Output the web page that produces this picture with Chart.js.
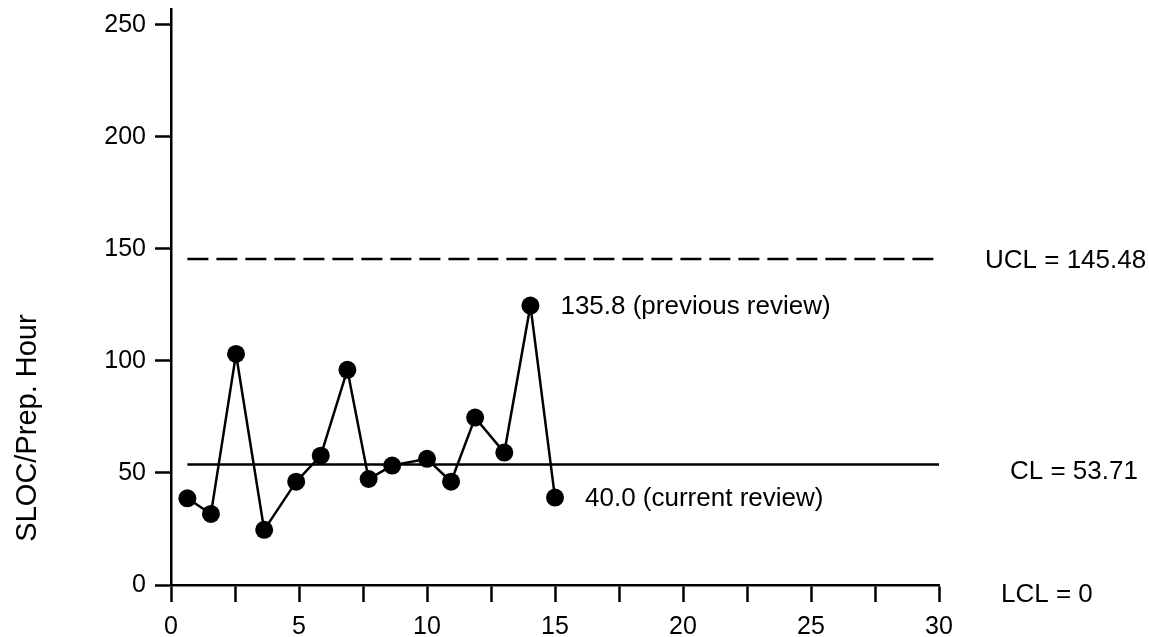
<!DOCTYPE html>
<html>
<head>
<meta charset="utf-8">
<script src="https://cdn.jsdelivr.net/npm/chart.js@4/dist/chart.umd.min.js"></script>
<style>
  html, body { margin: 0; padding: 0; background: #fff; }
  #wrap { width: 1149px; height: 637px; }
</style>
</head>
<body>
<div id="wrap"><canvas id="spcChart"></canvas></div>
<script>
// review samples (x = review number, y = SLOC per prep hour)
const reviewX = [0.64, 1.56, 2.54, 3.64, 4.89, 5.85, 6.89, 7.72, 8.64, 10.0, 10.94, 11.88, 13.02, 14.04, 15.0];
const slocPerHour = [38.7, 31.7, 103.1, 24.6, 46.1, 57.7, 96.0, 47.3, 53.3, 56.3, 46.1, 74.7, 59.1, 124.7, 39.0];

// control limits
const limitNames = ['UCL', 'CL', 'LCL'];
const limitValues = [145.48, 53.71, 0];

// callouts on points
const noteIndex = [13, 14];
const noteText = ['135.8 (previous review)', '40.0 (current review)'];

// axis ticks
const xTicks = [0, 2.5, 5, 7.5, 10, 12.5, 15, 17.5, 20, 22.5, 25, 27.5, 30];
const yTicks = [0, 50, 100, 150, 200, 250];

const FONT = '"Liberation Sans", Arial, Helvetica, sans-serif';
Chart.defaults.font.family = FONT;
Chart.defaults.color = '#000';

const points = reviewX.map((x, i) => ({ x: x, y: slocPerHour[i] }));
const xEnd = xTicks[xTicks.length - 1];

const labelsPlugin = {
  id: 'spcLabels',
  afterDraw(chart) {
    const ctx = chart.ctx;
    const xs = chart.scales.x, ys = chart.scales.y;
    ctx.save();
    ctx.fillStyle = '#000';
    ctx.font = '26px ' + FONT;
    ctx.textBaseline = 'middle';
    ctx.textAlign = 'left';

    // point callouts
    noteIndex.forEach((idx, i) => {
      const px = xs.getPixelForValue(reviewX[idx]);
      const py = ys.getPixelForValue(slocPerHour[idx]);
      ctx.fillText(noteText[i], px + 30, py + 1);
    });

    // limit labels on the right
    const lx = [985, 1010, 1001];
    const dy = [2, 7, 10];
    limitNames.forEach((name, i) => {
      const py = ys.getPixelForValue(limitValues[i]);
      ctx.fillText(name + ' = ' + limitValues[i], lx[i], py + dy[i]);
    });

    // y axis title
    ctx.font = '29px ' + FONT;
    ctx.textBaseline = 'alphabetic';
    ctx.translate(36, 428);
    ctx.rotate(-Math.PI / 2);
    ctx.textAlign = 'center';
    ctx.fillText('SLOC/Prep. Hour', 0, 0);
    ctx.restore();
  }
};

new Chart(document.getElementById('spcChart'), {
  type: 'scatter',
  data: {
    datasets: [
      {
        label: 'SLOC/Prep. Hour',
        data: points,
        showLine: true,
        borderColor: '#000',
        borderWidth: 2.5,
        pointRadius: 9,
        pointBackgroundColor: '#000',
        pointBorderWidth: 0,
        tension: 0,
        clip: false
      },
      {
        label: 'CL',
        data: [{ x: reviewX[0], y: limitValues[1] }, { x: xEnd, y: limitValues[1] }],
        showLine: true,
        borderColor: '#000',
        borderWidth: 2.5,
        pointRadius: 0
      },
      {
        label: 'UCL',
        data: [{ x: reviewX[0], y: limitValues[0] }, { x: xEnd, y: limitValues[0] }],
        showLine: true,
        borderColor: '#000',
        borderWidth: 2.5,
        borderDash: [21, 8],
        pointRadius: 0
      }
    ]
  },
  options: {
    responsive: true,
    maintainAspectRatio: false,
    animation: false,
    layout: { padding: { left: 0, top: 9, right: 210, bottom: 0 } },
    plugins: {
      legend: { display: false },
      tooltip: { enabled: false }
    },
    scales: {
      x: {
        type: 'linear',
        min: 0,
        max: xEnd,
        afterBuildTicks: s => { s.ticks = xTicks.map(v => ({ value: v })); },
        afterFit: s => { s.height = 52; s.paddingLeft = 0; s.paddingRight = 0; },
        border: { display: true, color: '#000', width: 2.5 },
        grid: { drawOnChartArea: false, drawTicks: true, tickLength: 17, tickWidth: 2.5, tickColor: '#000' },
        ticks: {
          color: '#000',
          font: { size: 25 },
          padding: 10,
          autoSkip: false,
          maxRotation: 0,
          callback: v => (v % 5 === 0 ? String(v) : '')
        }
      },
      y: {
        type: 'linear',
        min: 0,
        max: 257,
        afterBuildTicks: s => { s.ticks = yTicks.map(v => ({ value: v })); },
        afterFit: s => { s.width = 171; s.paddingTop = 0; s.paddingBottom = 0; },
        border: { display: true, color: '#000', width: 2.5 },
        grid: { drawOnChartArea: false, drawTicks: true, tickLength: 16, tickWidth: 2.5, tickColor: '#000' },
        ticks: { color: '#000', font: { size: 25 }, padding: 9 }
      }
    }
  },
  plugins: [labelsPlugin]
});
</script>
</body>
</html>
